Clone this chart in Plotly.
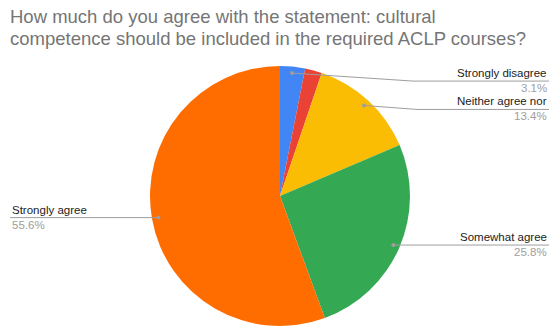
import math
import plotly.graph_objects as go

# Survey responses (percent of respondents)
labels = ["Strongly disagree", "Somewhat disagree", "Neither agree nor disagree",
          "Somewhat agree", "Strongly agree"]
values = [3.1, 2.1, 13.4, 25.8, 55.6]
colors = ["#4285F4", "#EA4335", "#FBBC04", "#34A853", "#FF6D01"]

# Text shown beside the slices (None = no callout)
callout_text = ["Strongly disagree", None, "Neither agree nor", "Somewhat agree", "Strongly agree"]
# Callout placement: side of the chart, vertical offset of the label row and elbow x (px)
callout_side = ["right", None, "right", "right", "left"]
callout_shift = [8, 0, 4, 0, 0]
callout_elbow = [413, None, 417, None, None]

W, H = 551, 327
CX, CY, R = 280, 196, 130
FONT = "Liberation Sans, Arial"


def px(x):
    return x / W


def py(y):
    return 1 - y / H


fig = go.Figure(go.Pie(
    labels=labels,
    values=values,
    sort=False,
    direction="clockwise",
    rotation=0,
    marker=dict(colors=colors, line=dict(width=0)),
    textinfo="none",
    hoverinfo="label+percent",
    domain=dict(x=[px(CX - R), px(CX + R)], y=[py(CY + R), py(CY - R)]),
    showlegend=False,
))

shapes = []
annotations = []
total = sum(values)
cum = 0.0
line_col = "#9e9e9e"
for v, txt, side, shift, elbow in zip(values, callout_text, callout_side,
                                      callout_shift, callout_elbow):
    mid = (cum + v / 2) / total * 2 * math.pi
    cum += v
    if txt is None:
        continue
    # anchor dot just inside the rim, at the middle of the slice
    x0 = CX + 0.95 * R * math.sin(mid)
    y0 = CY - 0.95 * R * math.cos(mid)
    ly = y0 + shift
    xe = 549 if side == "right" else 10
    xk = elbow if elbow is not None else x0
    # elbow leader line
    shapes.append(dict(type="line", xref="paper", yref="paper",
                       x0=px(x0), y0=py(y0), x1=px(xk), y1=py(ly),
                       line=dict(color=line_col, width=1)))
    shapes.append(dict(type="line", xref="paper", yref="paper",
                       x0=px(xk), y0=py(ly), x1=px(xe), y1=py(ly),
                       line=dict(color=line_col, width=1)))
    shapes.append(dict(type="circle", xref="paper", yref="paper",
                       x0=px(x0 - 2), y0=py(y0 + 2), x1=px(x0 + 2), y1=py(y0 - 2),
                       fillcolor=line_col, line=dict(width=0)))
    anchor = "right" if side == "right" else "left"
    annotations.append(dict(x=px(xe), y=py(ly - 8), xref="paper", yref="paper",
                            text=txt, showarrow=False, xanchor=anchor, yanchor="middle",
                            font=dict(family=FONT, size=11.5, color="#222222")))
    annotations.append(dict(x=px(xe), y=py(ly + 7), xref="paper", yref="paper",
                            text=f"{v:.1f}%", showarrow=False, xanchor=anchor, yanchor="middle",
                            font=dict(family=FONT, size=11.5, color="#9e9e9e")))

# Two-line chart title
title_lines = ["How much do you agree with the statement: cultural",
               "competence should be included in the required ACLP courses?"]
for i, line in enumerate(title_lines):
    annotations.append(dict(
        x=px(8), y=py(17 + 22 * i), xref="paper", yref="paper",
        xanchor="left", yanchor="middle", align="left", showarrow=False,
        text=line,
        font=dict(family=FONT, size=18.5, color="#757575"),
    ))

fig.update_layout(
    width=W, height=H,
    margin=dict(l=0, r=0, t=0, b=0),
    paper_bgcolor="white",
    plot_bgcolor="white",
    shapes=shapes,
    annotations=annotations,
)

fig.write_html("out.html")
